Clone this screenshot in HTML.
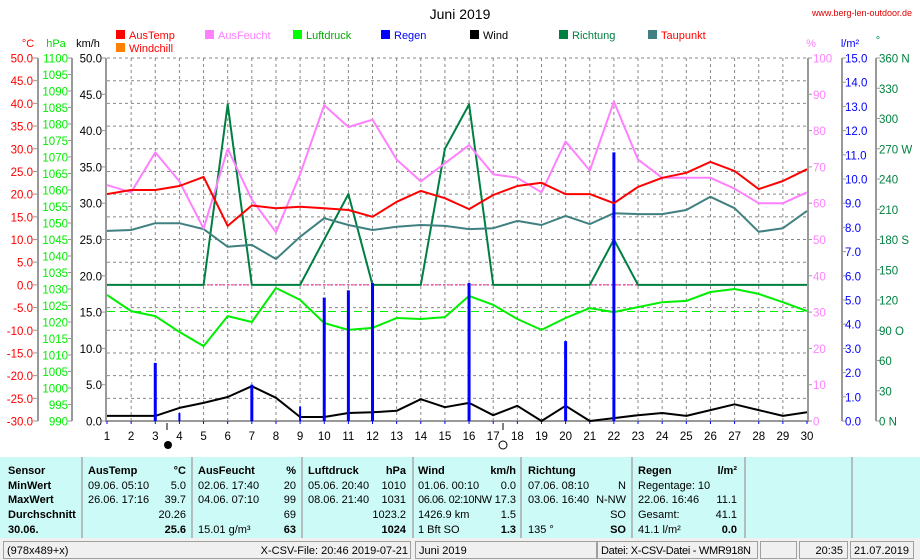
<!DOCTYPE html>
<html><head><meta charset="utf-8">
<style>
html,body{margin:0;padding:0;background:#fff;width:920px;height:560px;overflow:hidden}
svg{display:block;font-family:"Liberation Sans",sans-serif}
</style></head>
<body>
<svg id="chart" width="920" height="560" viewBox="0 0 920 560" xmlns="http://www.w3.org/2000/svg">
<text x="460" y="19" font-size="14" text-anchor="middle">Juni 2019</text>
<text x="912" y="16" font-size="9" fill="#e00000" text-anchor="end">www.berg-len-outdoor.de</text>
<g id="legend" font-size="11">
<rect x="116" y="30" width="9" height="9" fill="#ff0000"/><text x="129" y="39" fill="#ff0000">AusTemp</text>
<rect x="116" y="43" width="9" height="9" fill="#ff8000"/><text x="129" y="52" fill="#ff0000">Windchill</text>
<rect x="205" y="30" width="9" height="9" fill="#ff80ff"/><text x="218" y="39" fill="#ff80ff">AusFeucht</text>
<rect x="293" y="30" width="9" height="9" fill="#00ff00"/><text x="306" y="39" fill="#00aa00">Luftdruck</text>
<rect x="381" y="30" width="9" height="9" fill="#0000ff"/><text x="394" y="39" fill="#0000ff">Regen</text>
<rect x="470" y="30" width="9" height="9" fill="#000"/><text x="483" y="39" fill="#000">Wind</text>
<rect x="559" y="30" width="9" height="9" fill="#008040"/><text x="572" y="39" fill="#008040">Richtung</text>
<rect x="648" y="30" width="9" height="9" fill="#408080"/><text x="661" y="39" fill="#ff0000">Taupunkt</text>
</g>
<g font-size="11">
<text x="28" y="47" fill="#ff0000" text-anchor="middle">°C</text>
<text x="56" y="47" fill="#00dd00" text-anchor="middle">hPa</text>
<text x="88" y="47" fill="#000" text-anchor="middle">km/h</text>
<text x="811" y="47" fill="#ff80ff" text-anchor="middle">%</text>
<text x="850" y="47" fill="#0000ff" text-anchor="middle">l/m²</text>
<text x="878" y="44" fill="#008040" text-anchor="middle">°</text>
</g>
<g id="grid"></g>
<g id="axes"></g>
<g id="series"></g>
<g id="table"></g>
</svg>
<script>
const days = [1,2,3,4,5,6,7,8,9,10,11,12,13,14,15,16,17,18,19,20,21,22,23,24,25,26,27,28,29,30];
const ausTemp = [20.0,20.9,20.9,21.8,23.8,13.0,17.5,16.9,17.2,16.9,16.5,15.0,18.3,20.7,19.1,16.7,19.8,21.8,22.5,20.0,20.0,18.0,21.6,23.6,24.7,27.1,25.1,21.1,22.9,25.5];
const ausFeucht = [65,63,74,66,53,75,61,52,68,87,81,83,72,66,71,76,68,67,63,77,69,88,72,67,67,67,64,60,60,63];
const taupunkt = [11.9,12.1,13.6,13.6,12.3,8.4,8.8,5.7,10.6,14.7,13.2,12.1,12.8,13.2,13.0,12.3,12.5,14.1,13.2,15.2,13.4,15.8,15.6,15.6,16.5,19.4,16.9,11.7,12.5,16.3];
const luftdruck = [1028.2,1023.3,1021.8,1017.0,1012.7,1021.8,1020.0,1030.3,1026.7,1019.7,1017.6,1018.2,1021.2,1020.9,1021.5,1027.9,1025.2,1020.9,1017.6,1021.2,1024.2,1023.0,1024.5,1026.0,1026.4,1029.1,1030.0,1028.5,1026.0,1023.3];
const luftdruckAvg = 1023.2;
const wind = [0.7,0.7,0.7,1.8,2.5,3.3,4.8,3.2,0.55,0.55,1.1,1.2,1.4,3.0,1.9,2.5,0.8,2.1,0,2.1,0,0.4,0.8,1.1,0.7,1.5,2.3,1.5,0.7,1.2];
const richtung = [135,135,135,135,135,314,135,135,135,180,225,135,135,135,270,314,135,135,135,135,135,180,135,135,135,135,135,135,135,135];
const regen = [0,0,2.4,0.33,0,0,1.5,0,0.6,5.1,5.4,5.7,0,0,0,5.7,0,0,0,3.3,0,11.1,0,0,0,0,0,0,0,0];
const celsiusTicks = [50,45,40,35,30,25,20,15,10,5,0,-5,-10,-15,-20,-25,-30];
const hpaTicks = [1100,1095,1090,1085,1080,1075,1070,1065,1060,1055,1050,1045,1040,1035,1030,1025,1020,1015,1010,1005,1000,995,990];
const kmhTicks = [50,45,40,35,30,25,20,15,10,5,0];
const pctTicks = [100,90,80,70,60,50,40,30,20,10,0];
const lm2Ticks = [15,14,13,12,11,10,9,8,7,6,5,4,3,2,1,0];
const degTicks = [360,330,300,270,240,210,180,150,120,90,60,30,0];
const degLabels = ["360 N","330","300","270 W","240","210","180 S","150","120","90  O","60","30","0  N"];

const NS="http://www.w3.org/2000/svg";
const X0=107, X1=807, YT=58, YB=421;
const xDay = d => X0 + (d-1)*(X1-X0)/29;
const yC = v => YB - (v+30)*(YB-YT)/80;
const yH = v => YB - (v-990)*(YB-YT)/110;
const yK = v => YB - v*(YB-YT)/50;
const yP = v => YB - v*(YB-YT)/100;
const yL = v => YB - v*(YB-YT)/15;
const yD = v => YB - v*(YB-YT)/360;
function mk(tag, attrs, parent, text){
  const e=document.createElementNS(NS,tag);
  for(const k in attrs) e.setAttribute(k,attrs[k]);
  if(text!==undefined) e.textContent=text;
  parent.appendChild(e); return e;
}
const grid=document.getElementById('grid'), axes=document.getElementById('axes'), series=document.getElementById('series'), table=document.getElementById('table');

for(let i=1;i<16;i++){
  const y=YT+i*(YB-YT)/16;
  const g=mk('line',{x1:X0,x2:X1,y1:y,y2:y,stroke:'#888','stroke-dasharray':'3,3','stroke-width':1},grid);
  
  
}
{const g=mk('line',{x1:X0,x2:X1,y1:YT,y2:YT,stroke:'#888','stroke-dasharray':'3,3'},grid);

}
days.forEach(d=>{ if(d>1&&d<30){const g=mk('line',{x1:xDay(d),x2:xDay(d),y1:YT,y2:YB,stroke:'#888','stroke-dasharray':'3,3'},grid);

}});

[[106,YT,106,YB],[808,YT,808,YB],[38,YT,38,YB],[72,YT,72,YB],[842,YT,842,YB],[876,YT,876,YB]].forEach(a=>{
  const l=mk('line',{x1:a[0],y1:a[1],x2:a[2],y2:a[3],stroke:'#999','stroke-width':2},axes);
  
  
});
{const l=mk('line',{x1:105,x2:809,y1:YB,y2:YB,stroke:'#999','stroke-width':2},axes);

}
function ticks(arr, yf, xl, xa, xb, anchor, color, name, labels){
  arr.forEach((v,i)=>{
    const y=yf(v);
    const t=mk('line',{x1:xa,x2:xb,y1:y,y2:y,stroke:'#999'},axes);
    
    
    const lab = labels? labels[i] : (name==='hpa'||name==='pct'? String(v) : v.toFixed(1));
    const tx=mk('text',{x:xl,y:y+4.5,'font-size':11.5,fill:color,'text-anchor':anchor,'xml:space':'preserve'},axes,lab);
    
    
  });
}
ticks(celsiusTicks,yC,33,33,38,'end','#ff0000','celsius');
ticks(hpaTicks,yH,68,68,72,'end','#00ee00','hpa');
ticks(kmhTicks,yK,102,102,106,'end','#000','kmh');
ticks(pctTicks,yP,813,808,812,'start','#ff80ff','pct');
ticks(lm2Ticks,yL,845,842,846,'start','#0000ff','lm2');
ticks(degTicks,yD,879,876,880,'start','#008040','deg',degLabels);
days.forEach(d=>{
  const t=mk('text',{x:xDay(d),y:440,'font-size':11.5,'text-anchor':'middle'},axes,String(d));
  
  
  const k=mk('line',{x1:xDay(d),x2:xDay(d),y1:YB,y2:YB+3,stroke:'#00f'},axes);
  
  
});
{const l=mk('line',{x1:167,x2:167,y1:423,y2:430,stroke:'#000'},axes);


const c=mk('circle',{cx:168,cy:445,r:4,fill:'#000'},axes);


const l2=mk('line',{x1:503,x2:503,y1:423,y2:430,stroke:'#000'},axes);


const c2=mk('circle',{cx:503,cy:445,r:4,fill:'none',stroke:'#000'},axes);

}

{const z=mk('line',{x1:X0,x2:X1,y1:yC(0),y2:yC(0),stroke:'#ff0080','stroke-dasharray':'2,2'},series);


const a=mk('line',{x1:X0,x2:X1,y1:yH(luftdruckAvg),y2:yH(luftdruckAvg),stroke:'#00ee00','stroke-dasharray':'8,5'},series);

}

function line(vals, yf, color, name, w){
  const pts=vals.map((v,i)=>xDay(days[i]).toFixed(1)+','+yf(v).toFixed(1)).join(' ');
  const p=mk('polyline',{points:pts,fill:'none',stroke:color,'stroke-width':w||2,'stroke-linejoin':'round'},series);
  
  
}
line(richtung,yD,'#008040','richtung-line');
line(taupunkt,yC,'#408080','taupunkt-line');
line(ausFeucht,yP,'#ff80ff','ausfeucht-line');
line(luftdruck,yH,'#00ee00','luftdruck-line');
line(wind,yK,'#000','wind-line');
regen.forEach((v,i)=>{
  if(v<=0) return;
  const w = v<1 ? 2 : 3;
  const b=mk('rect',{x:xDay(days[i])-w/2,y:yL(v),width:w,height:YB-yL(v),fill:'#0000ff'},series);
  
  
});
line(ausTemp,yC,'#ff0000','austemp-line');

{const bg=mk('rect',{x:0,y:457,width:920,height:81,fill:'#ccfaf6'},table);

}
[82,192,302,413,521,632,745,852].forEach(x=>{
  const l=mk('line',{x1:x,x2:x,y1:457,y2:538,stroke:'#aaa','stroke-width':1.5},table);
  
  
});
const rowsY=[474,489,503,518,533];
const cells=[
 [8,'start',['Sensor','MinWert','MaxWert','Durchschnitt','30.06.'],[1,1,1,1,1]],
 [88,'start',['AusTemp','09.06.  05:10','26.06.  17:16','',''],[1,0,0,0,0]],
 [186,'end',['°C','5.0','39.7','20.26','25.6'],[1,0,0,0,1]],
 [198,'start',['AusFeucht','02.06.  17:40','04.06.  07:10','',' 15.01 g/m³'],[1,0,0,0,0]],
 [296,'end',['%','20','99','69','63'],[1,0,0,0,1]],
 [308,'start',['Luftdruck','05.06.  20:40','08.06.  21:40','',''],[1,0,0,0,0]],
 [406,'end',['hPa','1010','1031','1023.2','1024'],[1,0,0,0,1]],
 [418,'start',['Wind','01.06.  00:10','06.06.  02:10NW','1426.9 km',' 1 Bft SO'],[1,0,0,0,0]],
 [516,'end',['km/h','0.0','17.3','1.5','1.3'],[1,0,0,0,1]],
 [528,'start',['Richtung','07.06.  08:10','03.06.  16:40','',' 135 °'],[1,0,0,0,0]],
 [626,'end',['','N','N-NW','SO','SO'],[0,0,0,0,1]],
 [638,'start',['Regen','Regentage: 10','22.06.  16:46','Gesamt:',' 41.1 l/m²'],[1,0,0,0,0]],
 [737,'end',['l/m²','','11.1','41.1','0.0'],[1,0,0,0,1]]
];
cells.forEach(c=>{
  c[2].forEach((s,i)=>{
    if(!s) return;
    const t=mk('text',{x:c[0],y:rowsY[i],'font-size':11,'text-anchor':c[1],'font-weight':c[3][i]?'bold':'normal','xml:space':'preserve'},table,s);
    if(s==='06.06.  02:10NW') t.setAttribute('textLength','74');
    
    
  });
});
{const sb=mk('rect',{x:0,y:538,width:920,height:22,fill:'#f0f0f0'},table);

}
const boxes=[[3,410,'(978x489+x)','start'],[415,596,'Juni 2019','start'],[597,757,'Datei: X-CSV-Datei - WMR918N','start'],[760,796,'','start'],[799,847,'20:35','end'],[850,913,'21.07.2019','end']];
boxes.forEach(b=>{
  const r=mk('rect',{x:b[0]+0.5,y:541.5,width:b[1]-b[0],height:17,fill:'none',stroke:'#a0a0a0'},table);
  
  
  if(b[2]){
    const tx = b[3]==='end'? b[1]-4 : b[0]+4;
    const t=mk('text',{x:tx,y:554,'font-size':11,'text-anchor':b[3]},table,b[2]);
    if(b[2].startsWith('Datei')) t.setAttribute('textLength','150');
    
    
  }
});
{const t=mk('text',{x:408,y:554,'font-size':11,'text-anchor':'end','xml:space':'preserve'},table,'X-CSV-File:  20:46  2019-07-21');

}
</script>
</body></html>
